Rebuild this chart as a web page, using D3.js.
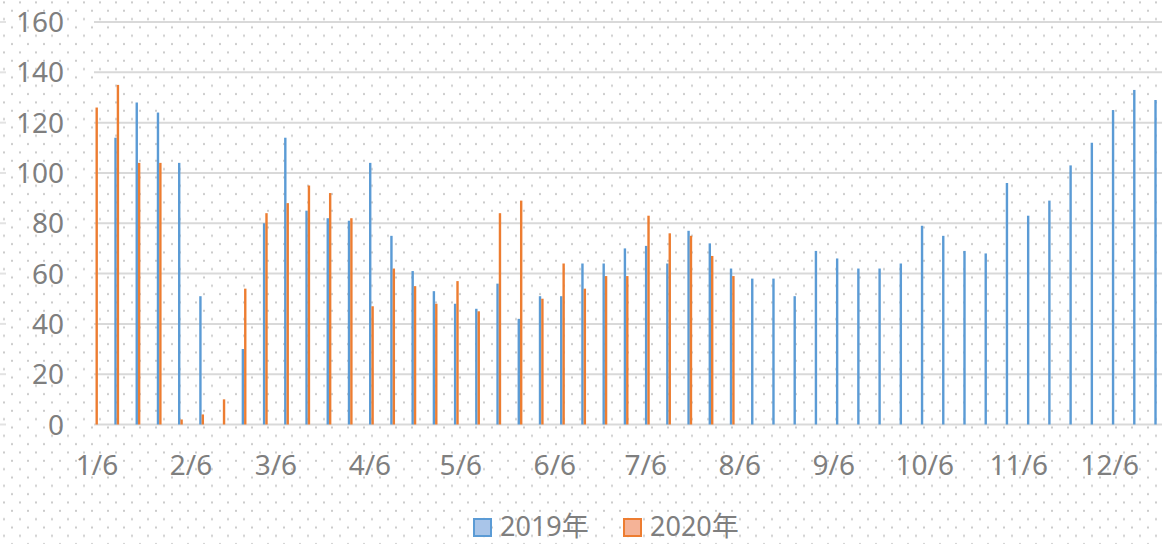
<!DOCTYPE html>
<html>
<head>
<meta charset="utf-8">
<script src="https://cdn.jsdelivr.net/npm/d3@7"></script>
<style>
  body { margin: 0; background: #fff; }
  svg { display: block; font-family: "Noto Sans", "Noto Sans CJK SC", sans-serif; }
</style>
</head>
<body>
<div id="chart"></div>
<script>
// weekly categories (2019 weeks), plotted on one month/day axis
var weeks = ['1/6', '1/13', '1/20', '1/27', '2/3', '2/10', '2/17', '2/24',
    '3/3', '3/10', '3/17', '3/24', '3/31', '4/7', '4/14', '4/21', '4/28',
    '5/5', '5/12', '5/19', '5/26', '6/2', '6/9', '6/16', '6/23', '6/30',
    '7/7', '7/14', '7/21', '7/28', '8/4', '8/11', '8/18', '8/25',
    '9/1', '9/8', '9/15', '9/22', '9/29', '10/6', '10/13', '10/20', '10/27',
    '11/3', '11/10', '11/17', '11/24', '12/1', '12/8', '12/15', '12/22'];

var values2019 = [null, 114, 128, 124, 104, 51, null, 30,
    80, 114, 85, 82, 81, 104, 75, 61, 53,
    48, 46, 56, 42, 51, 51, 64, 64, 70,
    71, 64, 77, 72, 62, 58, 58, 51,
    69, 66, 62, 62, 64, 79, 75, 69, 68,
    96, 83, 89, 103, 112, 125, 133, 129];

var values2020 = [126, 135, 104, 104, 2, 4, 10, 54,
    84, 88, 95, 92, 82, 47, 62, 55, 48,
    57, 45, 84, 89, 50, 64, 54, 59, 59,
    83, 76, 75, 67, 59];

var tickLabels = ['1/6', '2/6', '3/6', '4/6', '5/6', '6/6', '7/6', '8/6',
    '9/6', '10/6', '11/6', '12/6'];
var yTicks = [0, 20, 40, 60, 80, 100, 120, 140, 160];
var seriesNames = ['2019年', '2020年'];
var colors = ['#5b9bd5', '#ed7d31'];
var lightColors = ['#a9c5e9', '#f5b397'];

var W = 1162, H = 544;
var parse = d3.timeParse('%Y/%m/%d');
var toDate = function(s) { return parse('2019/' + s); };

var svg = d3.select('#chart').append('svg')
    .attr('width', W)
    .attr('height', H);

// dotted background
var pat = svg.append('defs').append('pattern')
    .attr('id', 'dots')
    .attr('patternUnits', 'userSpaceOnUse')
    .attr('width', 16)
    .attr('height', 16.67);
pat.append('rect').attr('x', 3).attr('y', 1.4).attr('width', 2).attr('height', 2).attr('fill', '#cbcbcb');
pat.append('rect').attr('x', 11).attr('y', 9.7).attr('width', 2).attr('height', 2).attr('fill', '#cbcbcb');
svg.append('rect').attr('width', W).attr('height', H).attr('fill', 'url(#dots)');

var x = d3.scaleTime()
    .domain([toDate('1/6'), toDate('12/6')])
    .range([95.5, 1108.2]);

var y = d3.scaleLinear()
    .domain([0, 160])
    .range([424.5, 22]);

// gridlines
var grid = svg.append('g');
grid.selectAll('.grid')
    .data(yTicks)
    .enter()
    .append('line')
    .attr('x1', 94)
    .attr('x2', W)
    .attr('y1', function(d) { return y(d); })
    .attr('y2', function(d) { return y(d); })
    .attr('stroke', '#d9d9d9')
    .attr('stroke-width', 2);
grid.selectAll('.stub')
    .data(yTicks)
    .enter()
    .append('line')
    .attr('x1', 0)
    .attr('x2', 6)
    .attr('y1', function(d) { return y(d); })
    .attr('y2', function(d) { return y(d); })
    .attr('stroke', '#e3e3e3')
    .attr('stroke-width', 2);

// y labels
svg.append('g').selectAll('text')
    .data(yTicks)
    .enter()
    .append('text')
    .attr('x', 64)
    .attr('y', function(d) { return y(d) + 10; })
    .attr('text-anchor', 'end')
    .attr('fill', '#7f7f7f')
    .attr('font-size', 28)
    .text(function(d) { return d; });

// x labels
svg.append('g').selectAll('text')
    .data(tickLabels)
    .enter()
    .append('text')
    .attr('x', function(d) { return x(toDate(d)) + 1.5; })
    .attr('y', 475)
    .attr('text-anchor', 'middle')
    .attr('fill', '#7f7f7f')
    .attr('font-size', 28)
    .text(function(d) { return d; });

// bars
var bw = 2.4;
[values2019, values2020].forEach(function(vals, s) {
    var data = vals.map(function(v, i) { return { week: weeks[i], v: v }; })
        .filter(function(d) { return d.v != null; });
    svg.append('g').selectAll('rect')
        .data(data)
        .enter()
        .append('rect')
        .attr('x', function(d) { return s == 0 ? x(toDate(d.week)) - bw : x(toDate(d.week)); })
        .attr('width', bw)
        .attr('y', function(d) { return y(d.v); })
        .attr('height', function(d) { return y(0) - y(d.v); })
        .attr('fill', colors[s]);
});

// legend
var legendX = [474, 624];
var lg = svg.append('g').selectAll('g')
    .data(seriesNames)
    .enter()
    .append('g')
    .attr('transform', function(d, i) { return 'translate(' + legendX[i] + ',519)'; });
lg.append('rect')
    .attr('width', 17)
    .attr('height', 17)
    .attr('fill', function(d, i) { return lightColors[i]; })
    .attr('stroke', function(d, i) { return colors[i]; })
    .attr('stroke-width', 2);
lg.append('text')
    .attr('x', 26)
    .attr('y', 17)
    .attr('fill', '#7f7f7f')
    .attr('font-size', 27)
    .text(function(d) { return d; });
</script>
</body>
</html>
